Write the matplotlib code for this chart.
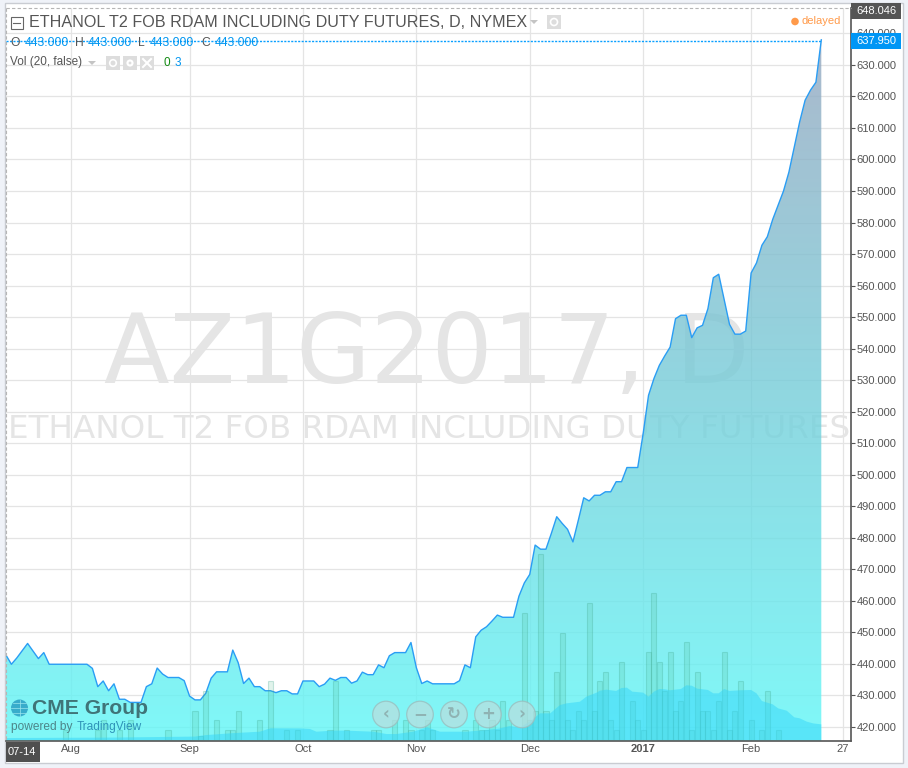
import numpy as np
import matplotlib
matplotlib.use("Agg")
import matplotlib.pyplot as plt
from matplotlib.colors import LinearSegmentedColormap
from matplotlib.patches import Rectangle, Circle, Polygon

plt.rcParams['font.family'] = ['Liberation Sans', 'DejaVu Sans']

price = [
 442.8,439.9,441.9,444.2,446.5,444.1,441.7,443.6,439.9,439.9,
 439.9,439.9,439.9,439.9,439.9,439.9,438.6,432.8,434.6,431.5,
 433.7,428.8,428.8,427.8,427.8,427.8,432.8,433.7,438.7,436.8,
 435.7,435.7,435.7,434.7,429.8,428.6,428.6,430.7,435.5,437.5,
 437.5,437.5,444.4,440.4,433.8,435.5,432.8,432.8,431.5,431.5,
 430.9,431.5,431.5,430.5,430.5,434.6,434.6,434.6,432.8,433.6,
 435.5,434.8,435.7,435.7,433.9,434.6,437.4,436.6,436.6,439.7,
 438.8,442.6,443.6,443.6,443.6,446.8,438.8,433.8,434.6,433.7,
 433.7,433.7,433.7,433.7,434.7,439.7,438.8,448.6,450.7,451.8,
 453.6,455.5,454.8,454.8,454.8,461.5,465.7,468.4,477.7,476.4,
 476.4,481.4,486.7,484.6,482.7,478.7,485.6,492.7,491.7,493.5,
 493.5,494.6,494.6,497.8,497.8,502.3,502.3,502.3,513.0,525.2,
 530.5,534.7,537.7,540.5,549.5,550.6,550.6,543.5,546.6,547.4,
 552.7,562.5,563.6,555.7,547.7,544.6,544.6,545.6,564.0,567.2,
 572.8,575.5,581.0,585.5,590.0,596.0,604.0,612.0,618.8,622.0,
 624.5,637.95]

vol_index = [11,17,18,21,23,30,35,36,37,39,41,42,43,47,49,52,54,60,61,63,68,69,72,74,75,77,78,79,
             85,87,88,89,90,91,92,93,96,97,98,99,100,101,102,103,104,105,106,107,108,109,110,
             111,112,113,114,116,117,118,119,120,121,122,123,124,125,126,127,128,129,130,131,132,
             133,134,135,136,138,140,141,143]
vol_value = [1,1,2,1,2,1,3,0.4,5,2,1,1,3,2,6,1,1,1,6,1,1,1,2,2,1,1,2,1,
             1,2,1,1,2,1,4,2,13,2,3,19,3,2,7,11,2,1,3,2,14,3,6,
             7,2,1,8,4,2,1,9,15,8,5,9,3,4,10,1,7,3,3,1,4,
             9,1,3,6,2,1,5,1]

ma_index = [0,20,35,37,42,47,49,54.4,56.3,57.5,60.6,63,68,70.5,72.3,75.4,78,80.4,85.3,89,91.5,93.3,95.2,97,98.9,
            100.8,102.6,103.8,106.3,107.5,109.4,110,111.2,113,114,115,116,118,119,120,121,122,123,125,126,127,
            128,130,131,132,133,134,136,138,139,140,142,143,144.6,146,147,148.3,149.5,151]
ma_value = [0.2,0.25,0.35,0.5,0.7,0.85,1.2,1.19,1.13,0.85,0.96,0.96,0.85,0.61,0.61,0.85,1.3,0.85,0.85,1.02,1.19,1.43,1.3,1.88,2.73,
            2.73,3.58,3.75,3.92,4.44,4.85,5.05,5.15,5.02,5.32,5.36,4.95,4.85,4.44,4.95,5.22,5.19,5.09,5.22,5.6,5.56,
            5.26,5.12,4.78,4.78,5.22,5.02,5.09,5.12,4.78,3.99,3.65,3.24,3.0,2.32,2.22,1.88,1.7,1.6]

price_ticks = list(range(420, 650, 10))
date_pos = [12, 34, 55, 76, 97, 118, 138, 155]
date_labels = ['Aug', 'Sep', 'Oct', 'Nov', 'Dec', '2017', 'Feb', '27']
title = 'ETHANOL T2 FOB RDAM INCLUDING DUTY FUTURES, D, NYMEX'

W, H = 908, 768
GREY = '#555555'
BLUE = '#0096f0'
fig = plt.figure(figsize=(W/100, H/100), dpi=100, facecolor='#eff2f8')

def rect(l, t, r, b):
    return [l/W, 1-b/H, (r-l)/W, (b-t)/H]

# panel behind everything
bg = fig.add_axes([0, 0, 1, 1], zorder=0)
bg.set_xlim(0, W); bg.set_ylim(H, 0); bg.axis('off')
bg.add_patch(Rectangle((4.5, 2.5), 898.5, 760, fc='white', ec='#c9ccd2', lw=1))

# main price axes
ax = fig.add_axes(rect(6, 8, 851, 741), zorder=1)
ax.patch.set_alpha(0)
x = np.arange(len(price))
ax.set_xlim(0, 156.5)
ax.set_ylim(415.56, 648.05)
ax.yaxis.tick_right()
ax.set_yticks(price_ticks)
ax.set_yticklabels([f'{v:.3f}' for v in price_ticks], fontsize=8.05, color=GREY)
ax.set_xticks(date_pos)
ax.set_xticklabels(date_labels, fontsize=8.05, color=GREY)
ax.get_xticklabels()[5].set_fontweight('bold')
ax.tick_params(axis='y', length=3, width=0.8, color=GREY, pad=0.8)
ax.tick_params(axis='x', length=0, pad=2.5)
ax.grid(True, color='#e4e4e4', lw=0.9, zorder=0)
ax.set_axisbelow(True)
for s in ('top', 'left'):
    ax.spines[s].set_visible(False)
for s in ('right', 'bottom'):
    ax.spines[s].set_color(GREY)
    ax.spines[s].set_linewidth(1.2)

# watermarks
wm = dict(color='#e5e5e5', zorder=1, ha='center', va='baseline', family=['DejaVu Sans'])
to_fig = fig.transFigure
fig_x = lambda px: px / W
fig_y = lambda py: 1 - py / H
ax.text(fig_x(426.5), fig_y(383), 'AZ1G2017, D', transform=to_fig, fontsize=69, **wm)
ax.text(fig_x(429), fig_y(438), 'ETHANOL T2 FOB RDAM INCLUDING DUTY FUTURES', transform=to_fig, fontsize=23.4, **wm)

# gradient area
cmap = LinearSegmentedColormap.from_list('area', ['#95a7c0', '#75cdd9', '#60f7f7'])
grad = np.linspace(0, 1, 256).reshape(-1, 1)
y_lo, y_hi = ax.get_ylim()
im = ax.imshow(grad, cmap=cmap, aspect='auto', origin='upper',
               extent=[0, len(price) - 1, y_lo, max(price)], alpha=0.8, zorder=2)
poly = ax.fill_between(x, price, y_lo, facecolor='none', edgecolor='none', zorder=2)
im.set_clip_path(poly.get_paths()[0], transform=ax.transData)
ax.set_xlim(0, 156.5)
ax.set_ylim(415.56, 648.05)
ax.plot(x, price, color='#2a9df4', lw=1.0, zorder=5, solid_joinstyle='round')

# volume axes
vx = fig.add_axes(rect(6, 8, 851, 740), zorder=2)
vx.patch.set_alpha(0)
vx.set_xlim(0, 156.5)
vx.set_ylim(0, 732 / 9.77)
vx.axis('off')
vx.bar(vol_index, vol_value, width=0.95, facecolor=(0.30, 0.72, 0.55, 0.17),
       edgecolor=(0.25, 0.65, 0.55, 0.28), linewidth=0.8, zorder=3)
vx.fill_between(ma_index, ma_value, 0, facecolor=(0.2, 0.835, 0.976, 0.5), edgecolor='none', zorder=4)

# overlay in pixel coordinates
ov = fig.add_axes([0, 0, 1, 1], zorder=5)
ov.set_xlim(0, W); ov.set_ylim(H, 0); ov.axis('off')
ov.patch.set_alpha(0)

# dashed guides
ov.plot([6, 851], [8, 8], color='#b5b5b5', lw=0.8, ls=(0, (3, 2)))
ov.plot([6, 6], [8, 741], color='#b5b5b5', lw=0.8, ls=(0, (3, 2)))
ov.plot([6, 821], [40.5, 40.5], color='#0aa0ff', lw=1.0, ls=(0, (1.5, 1.0)))

# header
ov.add_patch(Rectangle((10.5, 16.5), 12, 12, fc='none', ec='#666666', lw=0.8))
ov.plot([13, 20], [22.5, 22.5], color='#666666', lw=0.8)
ov.text(29, 22.5, title, fontsize=11.6, color='#555555', va='center', ha='left')
ov.add_patch(Polygon([[530, 20], [538, 20], [534, 24]], fc='#c4c4c4', ec='none'))
ov.add_patch(Rectangle((547, 15), 14, 14, fc='#dddddd', ec='none'))
ov.add_patch(Circle((554, 22), 3.5, fc='none', ec='white', lw=1.2))
ov.add_patch(Circle((795, 21.5), 3.8, fc='#ff9a4a', ec='none'))
ov.text(802, 21.5, 'delayed', fontsize=8, color='#ff9a4a', va='center')

# OHLC row
for tx, s, c in [(10, 'O', GREY), (25, '443.000', BLUE), (75, 'H', GREY), (88, '443.000', BLUE),
                 (138, 'L', GREY), (150, '443.000', BLUE), (201, 'C', GREY), (215, '443.000', BLUE)]:
    ov.text(tx, 43, s, fontsize=8.7, color=c, va='center')

# volume row
ov.text(10, 62.5, 'Vol (20, false)', fontsize=8.5, color=GREY, va='center')
ov.add_patch(Polygon([[88, 61], [96, 61], [92, 65]], fc='#c4c4c4', ec='none'))
for bx in (106, 123, 140):
    ov.add_patch(Rectangle((bx, 56), 14, 14, fc='#dddddd', ec='none'))
ov.add_patch(Circle((113, 63), 3.3, fc='none', ec='white', lw=1.2))
ov.add_patch(Circle((130, 63), 3.6, fc='white', ec='none'))
ov.add_patch(Circle((130, 63), 1.4, fc='#dddddd', ec='none'))
ov.plot([143, 151], [59, 67], color='white', lw=1.5)
ov.plot([143, 151], [67, 59], color='white', lw=1.5)
ov.text(163, 62.5, '0', fontsize=8.5, color='#138a13', va='center')
ov.text(175, 62.5, '3', fontsize=8.5, color=BLUE, va='center')

# price flags
ov.add_patch(Rectangle((851, 3), 50, 16, fc='#555555', ec='none'))
ov.text(856, 11, '648.046', fontsize=8.05, color='white', va='center')
ov.add_patch(Rectangle((851, 33), 50, 15.5, fc='#0096f5', ec='none'))
ov.text(856, 41, '637.950', fontsize=8.05, color='white', va='center')

# start-date flag
ov.add_patch(Rectangle((6, 742), 34, 19.5, fc='#4f4f4f', ec='none'))
ov.text(8, 752, '07-14', fontsize=8.05, color='white', va='center')

# CME logo
ov.add_patch(Circle((19.5, 708), 8.5, fc='#2c9fc4', ec='none', alpha=0.85))
ov.plot([11, 28], [708, 708], color='#9be6ee', lw=0.5)
ov.plot([13, 26], [703, 703], color='#9be6ee', lw=0.5)
ov.plot([13, 26], [713, 713], color='#9be6ee', lw=0.5)
ov.plot([19.5, 19.5], [700, 716], color='#9be6ee', lw=0.5)
ov.text(32, 708.5, 'CME Group', fontsize=15.2, fontweight='bold', color='#3f7478', va='center')
ov.text(11, 727, 'powered by', fontsize=8.6, color='#4d8589', va='center')
ov.text(77, 727, 'TradingView', fontsize=8.6, color='#2f93b8', va='center')

# navigation buttons
for cx, sym in zip((386, 420, 454, 488, 522), ('‹', '−', '↻', '+', '›')):
    ov.add_patch(Circle((cx, 714.5), 13.3, fc=(0.72, 0.87, 0.87, 0.72), ec=(0.6, 0.75, 0.75, 0.8), lw=0.9))
    ov.text(cx, 714, sym, fontsize=12, color='#8fb3b3', ha='center', va='center',
            fontweight='bold', family=['DejaVu Sans'])

fig.savefig('out.png', dpi=100, facecolor=fig.get_facecolor())
